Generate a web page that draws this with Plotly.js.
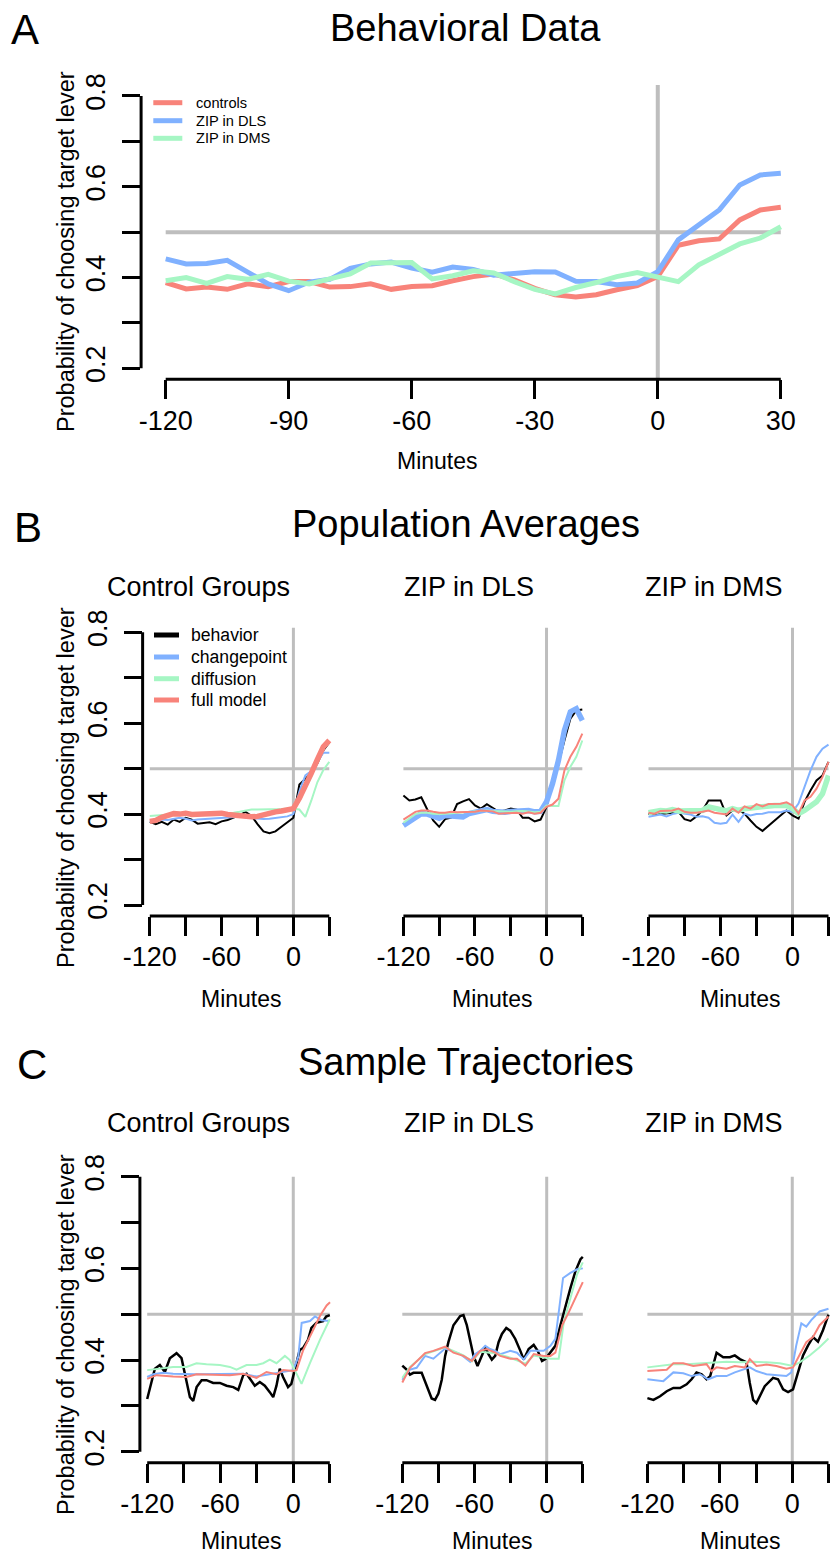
<!DOCTYPE html>
<html><head><meta charset="utf-8">
<script src="https://cdn.plot.ly/plotly-3.0.1.min.js"></script>
<style>html,body{margin:0;padding:0;background:#fff}#chart{width:830px;height:1554px}</style>
</head><body><div id="chart"></div>
<script>
// ================= DATA =================
// Panel A: behavioral data, 5-minute bins
const aMinutes = [-120,-115,-110,-105,-100,-95,-90,-85,-80,-75,-70,-65,-60,-55,-50,-45,-40,-35,-30,-25,-20,-15,-10,-5,0,5,10,15,20,25,30];
const aControls = [0.389,0.375,0.379,0.374,0.386,0.380,0.391,0.391,0.379,0.380,0.386,0.374,0.380,0.382,0.393,0.402,0.408,0.395,0.376,0.362,0.357,0.362,0.373,0.382,0.402,0.471,0.481,0.485,0.527,0.549,0.555];
const aZipDLS   = [0.441,0.430,0.431,0.438,0.412,0.386,0.371,0.390,0.396,0.420,0.430,0.434,0.421,0.412,0.423,0.418,0.405,0.409,0.413,0.412,0.392,0.391,0.384,0.388,0.413,0.483,0.516,0.549,0.604,0.626,0.630];
const aZipDMS   = [0.393,0.400,0.387,0.402,0.396,0.407,0.392,0.386,0.397,0.408,0.432,0.433,0.433,0.397,0.404,0.415,0.410,0.391,0.374,0.364,0.378,0.389,0.402,0.411,0.401,0.391,0.428,0.452,0.474,0.487,0.512];
const aNames = ['controls','ZIP in DLS','ZIP in DMS'];

// Panel B: population averages (behavior + three models), 5-minute bins
const bMinutes = [-120,-115,-110,-105,-100,-95,-90,-85,-80,-75,-70,-65,-60,-55,-50,-45,-40,-35,-30,-25,-20,-15,-10,-5,0,5,10,15,20,25,30];
const bCtrlBehavior = [0.383,0.378,0.383,0.377,0.388,0.383,0.392,0.388,0.379,0.381,0.382,0.378,0.384,0.387,0.392,0.398,0.405,0.396,0.378,0.362,0.358,0.362,0.372,0.382,0.392,0.465,0.478,0.490,0.512,0.540,0.558];
const bCtrlChange   = [0.383,0.385,0.388,0.387,0.390,0.392,0.390,0.386,0.388,0.389,0.389,0.390,0.391,0.392,0.393,0.394,0.393,0.392,0.390,0.389,0.390,0.392,0.394,0.395,0.400,0.450,0.485,0.495,0.515,0.535,0.535];
const bCtrlDiff     = [0.396,0.397,0.398,0.400,0.401,0.401,0.401,0.402,0.402,0.402,0.402,0.402,0.402,0.403,0.403,0.405,0.407,0.410,0.410,0.410,0.410,0.411,0.411,0.412,0.412,0.410,0.394,0.430,0.470,0.497,0.515];
const bCtrlFull     = [0.384,0.386,0.393,0.397,0.401,0.400,0.402,0.399,0.400,0.399,0.401,0.400,0.402,0.399,0.398,0.394,0.393,0.394,0.395,0.399,0.403,0.405,0.407,0.409,0.412,0.435,0.460,0.490,0.520,0.548,0.562];

const bDlsBehavior = [0.441,0.430,0.432,0.437,0.410,0.386,0.372,0.389,0.392,0.422,0.428,0.433,0.419,0.412,0.422,0.414,0.405,0.408,0.412,0.410,0.392,0.392,0.384,0.388,0.416,0.474,0.511,0.562,0.610,0.628,0.630];
const bDlsChange   = [0.375,0.384,0.395,0.401,0.400,0.394,0.391,0.397,0.397,0.394,0.394,0.401,0.404,0.410,0.410,0.406,0.404,0.404,0.406,0.407,0.408,0.408,0.405,0.406,0.427,0.467,0.518,0.584,0.625,0.632,0.606];
const bDlsDiff     = [0.381,0.390,0.400,0.403,0.403,0.401,0.400,0.401,0.402,0.402,0.403,0.404,0.405,0.407,0.408,0.407,0.406,0.405,0.405,0.406,0.407,0.406,0.404,0.405,0.419,0.418,0.418,0.474,0.504,0.526,0.562];
const bDlsFull     = [0.388,0.397,0.405,0.408,0.408,0.405,0.403,0.403,0.405,0.404,0.404,0.405,0.405,0.408,0.407,0.406,0.401,0.402,0.402,0.403,0.401,0.404,0.401,0.403,0.416,0.421,0.434,0.496,0.526,0.548,0.577];

const bDmsBehavior = [0.400,0.401,0.400,0.401,0.403,0.405,0.389,0.385,0.395,0.408,0.430,0.430,0.430,0.397,0.408,0.410,0.401,0.386,0.372,0.363,0.375,0.386,0.397,0.408,0.397,0.390,0.427,0.452,0.474,0.485,0.515];
const bDmsChange   = [0.394,0.397,0.399,0.395,0.400,0.403,0.401,0.399,0.394,0.395,0.392,0.381,0.379,0.381,0.399,0.383,0.401,0.397,0.400,0.401,0.404,0.404,0.404,0.408,0.405,0.423,0.460,0.496,0.526,0.544,0.553];
const bDmsDiff     = [0.403,0.407,0.408,0.407,0.410,0.407,0.407,0.408,0.407,0.408,0.416,0.412,0.408,0.407,0.412,0.408,0.412,0.414,0.416,0.417,0.419,0.419,0.419,0.419,0.412,0.401,0.408,0.416,0.427,0.445,0.485];
const bDmsFull     = [0.403,0.401,0.407,0.407,0.408,0.412,0.405,0.403,0.403,0.405,0.408,0.403,0.401,0.399,0.412,0.403,0.417,0.412,0.422,0.417,0.422,0.423,0.423,0.426,0.419,0.401,0.430,0.438,0.456,0.482,0.515];

// Panel C: sample trajectories (minutes, value)
const cCtrlBehaviorMin = [-120,-117,-113.7,-109.6,-105.5,-101.4,-95.9,-91.8,-87.6,-84.9,-82.2,-79.4,-75.3,-71.3,-65.8,-60.3,-54.8,-49.3,-45.2,-41.1,-38.4,-35.7,-31.6,-27.5,-23.4,-19.3,-16.5,-13.8,-11.1,-8.4,-4.3,-1.6,1.2,5.3,8.0,12.1,14.9,19.0,24.5,27,30];
const cCtrlBehaviorVal = [0.315,0.345,0.381,0.389,0.374,0.404,0.415,0.404,0.356,0.319,0.311,0.341,0.356,0.356,0.350,0.350,0.344,0.341,0.335,0.367,0.370,0.359,0.344,0.352,0.344,0.330,0.319,0.344,0.381,0.363,0.341,0.348,0.378,0.422,0.426,0.444,0.470,0.481,0.485,0.495,0.498];
const cCtrlChangeMin = [-120,-115.1,-106.9,-98.7,-80,-60,-41.1,-30.2,-16.5,-5.5,0,4.1,6.9,13.7,17.8,23.3,29.6];
const cCtrlChangeVal = [0.363,0.369,0.372,0.370,0.369,0.370,0.370,0.364,0.370,0.376,0.378,0.407,0.481,0.485,0.495,0.487,0.485];
const cCtrlDiffMin = [-120,-112.3,-98.7,-87.7,-79.5,-71.3,-60.3,-52.1,-46.6,-38.4,-30.2,-24.7,-19.3,-13.8,-6.9,-2.8,1.3,6.8,13.7,21.9,30];
const cCtrlDiffVal = [0.378,0.381,0.385,0.385,0.393,0.391,0.389,0.385,0.379,0.389,0.389,0.393,0.401,0.393,0.409,0.400,0.378,0.348,0.393,0.444,0.489];
const cCtrlFullMin = [-120,-112.3,-98.7,-87.7,-79.5,-65.8,-52.1,-41.1,-30.2,-22,-13.8,-8.3,0,2.7,8.2,15.1,21.9,27.4,30.2];
const cCtrlFullVal = [0.359,0.367,0.364,0.363,0.369,0.368,0.367,0.370,0.361,0.374,0.369,0.378,0.376,0.378,0.422,0.459,0.496,0.519,0.526];

const cDlsBehaviorMin = [-120,-116.4,-113.6,-110.8,-103.9,-99.7,-95.6,-92.8,-90,-87.2,-84.4,-81.7,-77.5,-71.9,-69.2,-66.4,-63.6,-60.8,-57.5,-53.9,-51.1,-48.4,-45.6,-42.8,-40,-37.2,-33.6,-30.3,-26.1,-21.9,-19.1,-15,-10.8,-7.5,-3.9,-1.1,3.1,7.2,11.4,15.6,19.7,23.9,28.1,30];
const cDlsBehaviorVal = [0.388,0.379,0.368,0.372,0.372,0.342,0.316,0.313,0.327,0.357,0.409,0.439,0.476,0.496,0.498,0.476,0.439,0.409,0.387,0.409,0.427,0.413,0.401,0.409,0.439,0.457,0.470,0.464,0.446,0.420,0.401,0.424,0.433,0.420,0.398,0.402,0.416,0.431,0.476,0.520,0.557,0.594,0.620,0.625];
const cDlsChangeMin = [-120,-113.6,-108.1,-101.1,-94.2,-84.4,-71.9,-63.6,-59.4,-55.3,-51.1,-47,-42.8,-38.6,-30.3,-24.7,-19.1,-13.6,-8.1,-2.5,3.1,7.2,13.6,19.7,25.3,30];
const cDlsChangeVal = [0.357,0.379,0.383,0.409,0.403,0.425,0.413,0.396,0.413,0.420,0.431,0.424,0.420,0.413,0.420,0.416,0.401,0.420,0.420,0.420,0.431,0.446,0.579,0.590,0.598,0.600];
const cDlsDiffMin = [-120,-113.6,-101.1,-84.4,-69.2,-62.2,-55.3,-42.8,-30.3,-17.7,-10.8,-2.5,3.1,10,14.2,19.7,25.3,30];
const cDlsDiffVal = [0.361,0.385,0.413,0.428,0.410,0.397,0.418,0.415,0.405,0.392,0.410,0.405,0.403,0.403,0.483,0.535,0.587,0.613];
const cDlsFullMin = [-120,-113.6,-101.1,-94.2,-84.4,-77.5,-69.2,-62.2,-55.3,-49.7,-42.8,-38.6,-30.3,-24.7,-17.7,-10.8,-2.5,3.1,7.2,12.9,18.5,25.3,30];
const cDlsFullVal = [0.351,0.383,0.415,0.420,0.429,0.416,0.409,0.398,0.420,0.424,0.416,0.409,0.403,0.403,0.388,0.413,0.409,0.409,0.416,0.476,0.505,0.542,0.570];

const cDmsBehaviorMin = [-120,-115,-109.5,-104,-98.5,-93,-87.5,-83.4,-79.3,-75.1,-71,-68,-62.7,-57.2,-51.7,-47.6,-43.4,-37.9,-35.2,-32.4,-29.7,-26.9,-22.8,-15.9,-11.8,-7.6,-3.5,0.6,4.8,8.9,13.1,17.2,21.3,25.4,30];
const cDmsBehaviorVal = [0.317,0.313,0.321,0.332,0.339,0.339,0.347,0.358,0.373,0.369,0.358,0.365,0.416,0.406,0.406,0.410,0.402,0.395,0.350,0.313,0.306,0.321,0.343,0.361,0.358,0.336,0.330,0.336,0.373,0.410,0.432,0.450,0.440,0.465,0.499];
const cDmsChangeMin = [-120,-112.3,-106.8,-98.5,-90.3,-83.4,-76.5,-69.6,-62.7,-54.5,-47.6,-35.2,-29.7,-21.4,-13.2,-4.9,-0.8,3.3,7.5,11.6,15.7,22.6,30];
const cDmsChangeVal = [0.358,0.356,0.354,0.373,0.371,0.365,0.369,0.358,0.365,0.365,0.373,0.384,0.376,0.369,0.367,0.365,0.373,0.432,0.480,0.473,0.487,0.506,0.512];
const cDmsDiffMin = [-120,-98.5,-87.5,-73.7,-65.5,-54.5,-43.4,-32.4,-21.4,-10.4,0.6,6.1,14.4,22.6,30];
const cDmsDiffVal = [0.384,0.391,0.391,0.393,0.395,0.396,0.395,0.396,0.395,0.393,0.387,0.395,0.410,0.428,0.447];
const cDmsFullMin = [-120,-104,-98.5,-90.3,-82,-71,-66.9,-62.7,-54.5,-47.6,-39.3,-35.2,-29.7,-21.4,-13.2,-4.9,0.6,6.1,11.6,17.1,22.6,30];
const cDmsFullVal = [0.376,0.379,0.393,0.393,0.387,0.391,0.376,0.384,0.381,0.387,0.384,0.402,0.387,0.390,0.387,0.381,0.384,0.410,0.439,0.450,0.476,0.495];

const modelNames = ['behavior','changepoint','diffusion','full model'];
const groupTitles = ['Control Groups','ZIP in DLS','ZIP in DMS'];
const xTickVals = [-120,-90,-60,-30,0,30];
const xTickTextA = ['-120','-90','-60','-30','0','30'];
const xTickTextBC = ['-120','','-60','','0',''];
const yTickVals = [0.2,0.3,0.4,0.5,0.6,0.7,0.8];
const yTickText = ['0.2','','0.4','','0.6','','0.8'];

// ================= STYLE / LAYOUT =================
const W = 830, H = 1554;
const FONT = 'Liberation Sans, Arial, Helvetica, sans-serif';
const C = {red:'#F8837A', blue:'#80B1FF', green:'#A6F6C4', black:'#000000', gray:'#BEBEBE'};

// pixel positions of the -120 and 30 ticks and of the 0.2 and 0.8 ticks
const panels = [
  {k:'',  tx:[165.7,780.8], ty:[368.3,96.0],   yAxis:true,  xText:xTickTextA},
  {k:'2', tx:[149.8,329.3], ty:[905.0,632.3],  yAxis:true,  xText:xTickTextBC},
  {k:'3', tx:[403.4,582.3], ty:[905.0,632.3],  yAxis:false, xText:xTickTextBC},
  {k:'4', tx:[648.5,828.5], ty:[905.0,632.3],  yAxis:false, xText:xTickTextBC},
  {k:'5', tx:[147.2,329.8], ty:[1451.7,1176.7],yAxis:true,  xText:xTickTextBC},
  {k:'6', tx:[402.3,582.8], ty:[1451.7,1176.7],yAxis:false, xText:xTickTextBC},
  {k:'7', tx:[647.4,828.5], ty:[1451.7,1176.7],yAxis:false, xText:xTickTextBC},
];

const layout = {
  width: W, height: H, margin: {l:0,r:0,t:0,b:0},
  paper_bgcolor:'#fff', plot_bgcolor:'rgba(0,0,0,0)',
  showlegend:false, font:{family:FONT, color:'#000'},
  shapes: [], annotations: []
};
const px = x => x / W, py = y => 1 - y / H;

panels.forEach(p => {
  const sx = (p.tx[1]-p.tx[0]) / 150;
  let left = p.tx[0] - 6*sx, right = p.tx[1] + 6*sx;
  let xr = [-126, 36];
  if (right > W) { xr[1] = 30 + (W - p.tx[1]) / sx; right = W; }
  const sy = (p.ty[0]-p.ty[1]) / 0.6;
  const top = p.ty[1] - 0.024*sy, bottom = p.ty[0] + 0.024*sy;
  layout['xaxis'+p.k] = {
    domain:[px(left), px(right)], range:xr, anchor:'y'+p.k,
    showgrid:false, zeroline:false, showline:false, fixedrange:true,
    tickmode:'array', tickvals:xTickVals, ticktext:p.xText,
    ticks:'outside', ticklen:19, tickwidth:3, tickcolor:'#000',
    tickfont:{family:FONT, size:27, color:'#000'}, ticklabelstandoff:-2
  };
  const ya = {
    domain:[py(bottom), py(top)], range:[0.176,0.824], anchor:'x'+p.k,
    showgrid:false, zeroline:false, showline:false, fixedrange:true
  };
  if (p.yAxis) {
    Object.assign(ya, {tickmode:'array', tickvals:yTickVals, ticktext:yTickText,
      ticks:'outside', ticklen:18, tickwidth:3, tickcolor:'#000', tickangle:-90,
      tickfont:{family:FONT, size:27, color:'#000'}, ticklabelstandoff:6});
  } else {
    Object.assign(ya, {showticklabels:false, ticks:''});
  }
  layout['yaxis'+p.k] = ya;
  const xa = 'x'+p.k, yy = 'y'+p.k;
  const grayW = p.k === '' ? 4 : 3;
  // reference lines
  layout.shapes.push({type:'line', xref:xa, yref:yy, x0:-120, x1:30, y0:0.5, y1:0.5, line:{color:C.gray, width:grayW}, layer:'below'});
  const vTop = p.k === '' ? 0.824 : (['2','3','4'].includes(p.k) ? 0.81 : 0.80);
  layout.shapes.push({type:'line', xref:xa, yref:yy, x0:0, x1:0, y0:0.176, y1:vTop, line:{color:C.gray, width:grayW}, layer:'below'});
  // R-style axis lines (first to last tick)
  layout.shapes.push({type:'line', xref:xa, yref:yy+' domain', x0:-120, x1:30, y0:0, y1:0, line:{color:'#000', width:3}});
  if (p.yAxis) layout.shapes.push({type:'line', xref:xa+' domain', yref:yy, x0:0, x1:0, y0:0.2, y1:0.8, line:{color:'#000', width:3}});
});

const traces = [];
function addLine(x, y, k, color, width, name) {
  traces.push({type:'scatter', mode:'lines', x:x, y:y, xaxis:'x'+k, yaxis:'y'+k,
    name:name, line:{color:color, width:width}, hoverinfo:'skip'});
}
// Panel A
addLine(aMinutes, aControls, '', C.red, 5, aNames[0]);
addLine(aMinutes, aZipDLS, '', C.blue, 5, aNames[1]);
addLine(aMinutes, aZipDMS, '', C.green, 5, aNames[2]);
// Panel B
const bSets = [
  {k:'2', d:[bCtrlBehavior,bCtrlChange,bCtrlDiff,bCtrlFull], thick:3},
  {k:'3', d:[bDlsBehavior,bDlsChange,bDlsDiff,bDlsFull], thick:1},
  {k:'4', d:[bDmsBehavior,bDmsChange,bDmsDiff,bDmsFull], thick:2},
];
const modelColors = [C.black, C.blue, C.green, C.red];
bSets.forEach(s => s.d.forEach((v,i) => addLine(bMinutes, v, s.k, modelColors[i], i === s.thick ? 5.5 : 2, modelNames[i])));
// Panel C
const cSets = [
  {k:'5', d:[[cCtrlBehaviorMin,cCtrlBehaviorVal],[cCtrlChangeMin,cCtrlChangeVal],[cCtrlDiffMin,cCtrlDiffVal],[cCtrlFullMin,cCtrlFullVal]]},
  {k:'6', d:[[cDlsBehaviorMin,cDlsBehaviorVal],[cDlsChangeMin,cDlsChangeVal],[cDlsDiffMin,cDlsDiffVal],[cDlsFullMin,cDlsFullVal]]},
  {k:'7', d:[[cDmsBehaviorMin,cDmsBehaviorVal],[cDmsChangeMin,cDmsChangeVal],[cDmsDiffMin,cDmsDiffVal],[cDmsFullMin,cDmsFullVal]]},
];
cSets.forEach(s => s.d.forEach((v,i) => addLine(v[0], v[1], s.k, modelColors[i], i === 0 ? 2.5 : 2, modelNames[i])));

// ================= TEXT =================
function ann(text, x, y, size, opt) {
  layout.annotations.push(Object.assign({text:text, xref:'paper', yref:'paper', x:px(x), y:py(y),
    xanchor:'center', yanchor:'middle', showarrow:false, font:{family:FONT, size:size, color:'#000'}}, opt||{}));
}
ann('A', 25, 30, 42);
ann('B', 28, 527, 42);
ann('C', 32, 1064, 42);
ann('Behavioral Data', 465, 28, 38);
ann('Population Averages', 466, 524, 38);
ann('Sample Trajectories', 466, 1062, 38);
const subX = [198, 469, 714];
groupTitles.forEach((t,i) => { ann(t, subX[i], 587, 27); ann(t, subX[i], 1122.5, 27); });
const ylab = 'Probability of choosing target lever';
[252, 788, 1335].forEach(y => ann(ylab, 66, y, 23.5, {textangle:-90}));
ann('Minutes', 437, 460.5, 23);
[241, 492, 740].forEach(x => { ann('Minutes', x, 999, 23); ann('Minutes', x, 1541, 23); });

// legends
const legA = [[aNames[0], C.red],[aNames[1], C.blue],[aNames[2], C.green]];
const legAY = [102.7, 120.7, 138.3];
legA.forEach((l,i) => {
  layout.shapes.push({type:'line', xref:'paper', yref:'paper', x0:px(153.3), x1:px(182.3), y0:py(legAY[i]), y1:py(legAY[i]), line:{color:l[1], width:5}});
  ann(l[0], 194.3, legAY[i], 14.6, {xanchor:'left'});
});
const legBY = [635, 657, 678.7, 700];
modelNames.forEach((n,i) => {
  layout.shapes.push({type:'line', xref:'paper', yref:'paper', x0:px(154), x1:px(179), y0:py(legBY[i]), y1:py(legBY[i]), line:{color:modelColors[i], width:5}});
  ann(n, 189.3, legBY[i], 17.6, {xanchor:'left'});
});

Plotly.newPlot('chart', traces, layout, {displayModeBar:false, staticPlot:true});
</script>
</body></html>
